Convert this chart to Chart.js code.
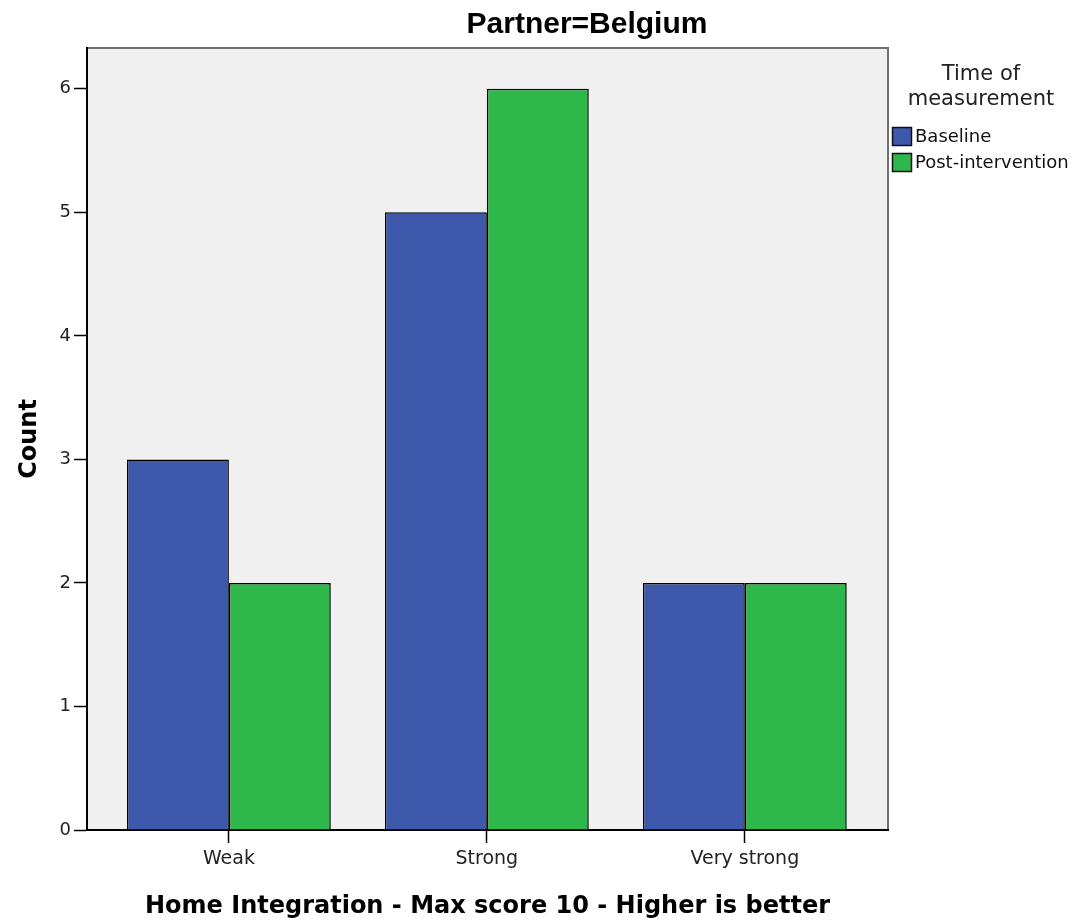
<!DOCTYPE html>
<html>
<head>
<meta charset="utf-8">
<script src="https://cdn.jsdelivr.net/npm/chart.js@4"></script>
<style>
  body { margin: 0; background: #fff; }
  #wrap { width: 1077px; height: 921px; }
</style>
</head>
<body>
<div id="wrap"><canvas id="chart" width="1077" height="921"></canvas></div>
<script>
// data
const categories = ['Weak', 'Strong', 'Very strong'];
const baseline = [3, 5, 2];
const postIntervention = [2, 6, 2];
const seriesNames = ['Baseline', 'Post-intervention'];
const seriesColors = ['#3E58AC', '#2EB84B'];
const yTicks = [0, 1, 2, 3, 4, 5, 6];

const SANS = '"DejaVu Sans", Verdana, sans-serif';
const ARIAL = '"Liberation Sans", Arial, sans-serif';

// categories sit on a numeric axis so the panel can have extra room at the sides
const toPoints = vals => vals.map((v, i) => ({ x: i, y: v }));

// grey panel behind the bars, title and legend
const panel = {
  id: 'panel',
  beforeDraw(chart) {
    const { ctx, chartArea: a } = chart;
    ctx.save();
    ctx.fillStyle = '#F0F0F0';
    ctx.fillRect(a.left, a.top, a.right - a.left, a.bottom - a.top);
    ctx.strokeStyle = '#707070';
    ctx.lineWidth = 2;
    ctx.beginPath();
    ctx.moveTo(a.left, a.top);
    ctx.lineTo(a.right, a.top);
    ctx.lineTo(a.right, a.bottom);
    ctx.stroke();
    ctx.restore();
  },
  afterDraw(chart) {
    const ctx = chart.ctx;
    ctx.save();
    ctx.fillStyle = '#000';
    ctx.font = 'bold 30px ' + ARIAL;
    ctx.textAlign = 'center';
    ctx.textBaseline = 'middle';
    ctx.fillText('Partner=Belgium', 587, 25);
    // legend
    ctx.font = '21px ' + SANS;
    ctx.fillStyle = '#222';
    ctx.fillText('Time of', 981, 75);
    ctx.fillText('measurement', 981, 100);
    ctx.textAlign = 'left';
    ctx.font = '18px ' + SANS;
    seriesNames.forEach((n, i) => {
      const y = 127 + i * 26;
      ctx.fillStyle = seriesColors[i];
      ctx.fillRect(892, y, 19, 18);
      ctx.strokeStyle = '#111';
      ctx.lineWidth = 1.5;
      ctx.strokeRect(892.5, y + 0.5, 19, 18);
      ctx.fillStyle = '#111';
      ctx.fillText(n, 915, y + 10);
    });
    ctx.restore();
  }
};

new Chart(document.getElementById('chart'), {
  type: 'bar',
  data: {
    datasets: [
      { label: seriesNames[0], data: toPoints(baseline), backgroundColor: seriesColors[0], borderColor: '#000', borderWidth: 1.5 },
      { label: seriesNames[1], data: toPoints(postIntervention), backgroundColor: seriesColors[1], borderColor: '#000', borderWidth: 1.5 }
    ]
  },
  options: {
    responsive: false,
    animation: false,
    layout: { padding: { top: 48, right: 189, left: 0, bottom: 0 } },
    datasets: { bar: { categoryPercentage: 0.79, barPercentage: 1 } },
    plugins: { legend: { display: false }, tooltip: { enabled: false } },
    scales: {
      x: {
        type: 'linear',
        min: -0.55,
        max: 2.555,
        offset: false,
        afterFit: s => { s.height = 91; },
        afterBuildTicks: s => { s.ticks = categories.map((c, i) => ({ value: i })); },
        grid: { offset: false, drawOnChartArea: false, tickLength: 13, color: '#000', tickWidth: 1.5 },
        border: { color: '#000', width: 2 },
        ticks: { color: '#222', font: { family: SANS, size: 19 }, padding: 5, maxRotation: 0,
                 callback: v => categories[v] },
        title: { display: true, text: 'Home Integration - Max score 10 - Higher is better', color: '#000',
                 font: { family: SANS, size: 24, weight: 'bold' }, padding: { top: 8, bottom: 0 } }
      },
      y: {
        min: 0,
        max: 6.33,
        afterFit: s => { s.width = 87; },
        afterBuildTicks: s => { s.ticks = yTicks.map(v => ({ value: v })); },
        grid: { drawOnChartArea: false, tickLength: 13, color: '#000', tickWidth: 1.5 },
        border: { color: '#000', width: 2 },
        ticks: { color: '#222', font: { family: SANS, size: 18 }, padding: 3 },
        title: { display: true, text: 'Count', color: '#000',
                 font: { family: SANS, size: 24, weight: 'bold' }, padding: { top: 15, bottom: 0 } }
      }
    }
  },
  plugins: [panel]
});
</script>
</body>
</html>
